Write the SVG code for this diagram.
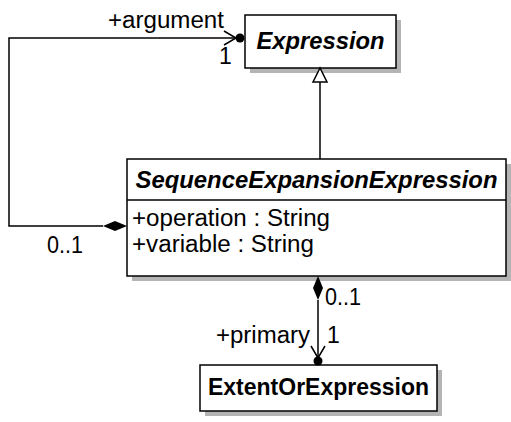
<svg xmlns="http://www.w3.org/2000/svg" width="511" height="422" viewBox="0 0 511 422">
<style>
text{font-family:"Liberation Sans",Arial,sans-serif;font-size:23px;fill:#000}
.t{font-weight:bold;font-style:italic}
.b{font-weight:bold}
.box{fill:#fff;stroke:#000;stroke-width:1.5}
.sh{fill:#b4b4b4}
.ln{fill:none;stroke:#000;stroke-width:1.5}
</style>
<rect width="511" height="422" fill="#fff"/>
<g id="Expression">
<rect class="sh" x="250" y="20" width="151" height="53"/>
<rect class="box" x="245" y="15" width="151" height="53"/>
<text class="t" x="320.5" y="49" text-anchor="middle" textLength="128" lengthAdjust="spacingAndGlyphs">Expression</text>
</g>
<g id="SequenceExpansionExpression">
<rect class="sh" x="132" y="164" width="379" height="117"/>
<rect class="box" x="127" y="159" width="379" height="117"/>
<line class="ln" x1="127" y1="200" x2="506" y2="200"/>
<text class="t" x="316.5" y="188" text-anchor="middle" textLength="362" lengthAdjust="spacingAndGlyphs">SequenceExpansionExpression</text>
<text x="132" y="226" textLength="198" lengthAdjust="spacingAndGlyphs">+operation : String</text>
<text x="132" y="252" textLength="182" lengthAdjust="spacingAndGlyphs">+variable : String</text>
</g>
<g id="ExtentOrExpression">
<rect class="sh" x="205" y="370" width="237" height="46"/>
<rect class="box" x="200" y="365" width="237" height="46"/>
<text class="b" x="318.5" y="395" text-anchor="middle" textLength="221" lengthAdjust="spacingAndGlyphs">ExtentOrExpression</text>
</g>
<g id="connectors">
<line class="ln" x1="320" y1="82" x2="320" y2="159"/>
<polygon class="box" points="320,68 313,82 327,82"/>
<polyline class="ln" points="103,226 9,226 9,38 239,38"/>
<polygon points="127,226 115,221 103,226 115,231" fill="#000"/>
<polyline class="ln" points="224,31 236,38 224,45"/>
<circle cx="240" cy="38" r="4.5" fill="#000"/>
<line class="ln" x1="318" y1="300" x2="318" y2="360"/>
<polygon points="318,276 313,288 318,300 323,288" fill="#000"/>
<polyline class="ln" points="311,346 318,358 325,346"/>
<circle cx="318" cy="361" r="4.5" fill="#000"/>
<text x="108" y="28" textLength="116" lengthAdjust="spacingAndGlyphs">+argument</text>
<text x="219" y="64">1</text>
<text x="47" y="253" textLength="36" lengthAdjust="spacingAndGlyphs">0..1</text>
<text x="325" y="305" textLength="36" lengthAdjust="spacingAndGlyphs">0..1</text>
<text x="310" y="343" text-anchor="end" textLength="94" lengthAdjust="spacingAndGlyphs">+primary</text>
<text x="327" y="343">1</text>
</g>
</svg>
